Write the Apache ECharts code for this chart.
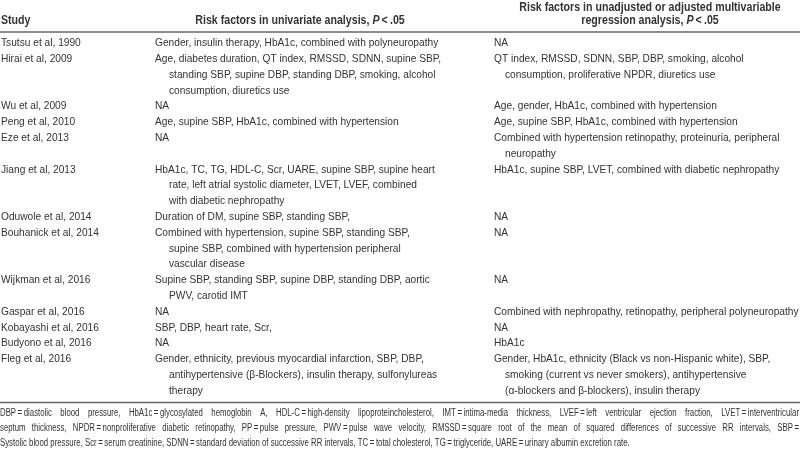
<!DOCTYPE html>
<html>
<head>
<meta charset="utf-8">
<script src="https://cdn.jsdelivr.net/npm/echarts@6/dist/echarts.min.js"></script>
<style>
  html, body { margin: 0; padding: 0; background: #fff; }
  #main { width: 800px; height: 451px; }
</style>
</head>
<body>
<div id="main"></div>
<script>
// table content, one entry per study; each cell is a list of printed lines
var studies = [
  'Tsutsu et al, 1990', 'Hirai et al, 2009', 'Wu et al, 2009', 'Peng et al, 2010',
  'Eze et al, 2013', 'Jiang et al, 2013', 'Oduwole et al, 2014', 'Bouhanick et al, 2014',
  'Wijkman et al, 2016', 'Gaspar et al, 2016', 'Kobayashi et al, 2016', 'Budyono et al, 2016',
  'Fleg et al, 2016'
];
var univariate = [
  ['Gender, insulin therapy, HbA1c, combined with polyneuropathy'],
  ['Age, diabetes duration, QT index, RMSSD, SDNN, supine SBP,', 'standing SBP, supine DBP, standing DBP, smoking, alcohol', 'consumption, diuretics use'],
  ['NA'],
  ['Age, supine SBP, HbA1c, combined with hypertension'],
  ['NA'],
  ['HbA1c, TC, TG, HDL-C, Scr, UARE, supine SBP, supine heart', 'rate, left atrial systolic diameter, LVET, LVEF, combined', 'with diabetic nephropathy'],
  ['Duration of DM, supine SBP, standing SBP,'],
  ['Combined with hypertension, supine SBP, standing SBP,', 'supine SBP, combined with hypertension peripheral', 'vascular disease'],
  ['Supine SBP, standing SBP, supine DBP, standing DBP, aortic', 'PWV, carotid IMT'],
  ['NA'],
  ['SBP, DBP, heart rate, Scr,'],
  ['NA'],
  ['Gender, ethnicity, previous myocardial infarction, SBP, DBP,', 'antihypertensive (\u03b2-Blockers), insulin therapy, sulfonylureas', 'therapy']
];
var multivariable = [
  ['NA'],
  ['QT index, RMSSD, SDNN, SBP, DBP, smoking, alcohol', 'consumption, proliferative NPDR, diuretics use'],
  ['Age, gender, HbA1c, combined with hypertension'],
  ['Age, supine SBP, HbA1c, combined with hypertension'],
  ['Combined with hypertension retinopathy, proteinuria, peripheral', 'neuropathy'],
  ['HbA1c, supine SBP, LVET, combined with diabetic nephropathy'],
  ['NA'],
  ['NA'],
  ['NA'],
  ['Combined with nephropathy, retinopathy, peripheral polyneuropathy'],
  ['NA'],
  ['HbA1c'],
  ['Gender, HbA1c, ethnicity (Black vs non-Hispanic white), SBP,', 'smoking (current vs never smokers), antihypertensive', '(\u03b1-blockers and \u03b2-blockers), insulin therapy']
];
var footnote = [
  'DBP\u2009=\u2009diastolic blood pressure, HbA1c\u2009=\u2009glycosylated hemoglobin A, HDL-C\u2009=\u2009high-density lipoproteincholesterol, IMT\u2009=\u2009intima-media thickness, LVEF\u2009=\u2009left ventricular ejection fraction, LVET\u2009=\u2009interventricular',
  'septum thickness, NPDR\u2009=\u2009nonproliferative diabetic retinopathy, PP\u2009=\u2009pulse pressure, PWV\u2009=\u2009pulse wave velocity, RMSSD\u2009=\u2009square root of the mean of squared differences of successive RR intervals, SBP\u2009=',
  'Systolic blood pressure, Scr\u2009=\u2009serum creatinine, SDNN\u2009=\u2009standard deviation of successive RR intervals, TC\u2009=\u2009total cholesterol, TG\u2009=\u2009triglyceride, UARE\u2009=\u2009urinary albumin excretion rate.'
];

// Helvetica Condensed look: Liberation Sans squeezed horizontally
var FAMILY = "Liberation Sans";
var BODY_FONT = '11.5px ' + FAMILY;
var HEAD_FONT = 'bold 12px ' + FAMILY;
var FOOT_FONT = '10px ' + FAMILY;
var SX = 0.885, FSX = 0.78;
var INK = '#333';

var W = 800;
var COL_X = [1, 155, 494];
var INDENT = [0, 14, 11];
var TOP = 43, LH = 15.8;

var myChart = echarts.init(document.getElementById('main'), null, { renderer: 'canvas' });
var els = [];

function txt(x, y, s, font, align, sx) {
  els.push({
    type: 'text', x: x, y: y, scaleX: sx || SX, silent: true,
    style: { text: s, font: font, fill: INK, textAlign: align || 'left', textVerticalAlign: 'middle' }
  });
}
function headRich(x, y, before) {
  els.push({
    type: 'text', x: x, y: y, scaleX: SX, silent: true,
    style: {
      text: '{b|' + before + '}{i|P}{b|\u2009<\u2009.05}',
      textAlign: 'center', textVerticalAlign: 'middle', fill: INK,
      rich: {
        b: { font: HEAD_FONT, fill: INK },
        i: { font: 'italic ' + HEAD_FONT, fill: INK }
      }
    }
  });
}

// header
txt(COL_X[0], 21, 'Study', HEAD_FONT);
headRich(300, 21, 'Risk factors in univariate analysis, ');
txt(650, 8, 'Risk factors in unadjusted or adjusted multivariable', HEAD_FONT, 'center');
headRich(650, 21, 'regression analysis, ');

// rules
function rule(y) {
  els.push({ type: 'line', silent: true, shape: { x1: 0, y1: y, x2: W, y2: y }, style: { stroke: '#666', lineWidth: 1.5 } });
}
rule(32);

// body rows
var line = 0;
studies.forEach(function (s, i) {
  var rows = Math.max(1, univariate[i].length, multivariable[i].length);
  txt(COL_X[0], TOP + line * LH, s, BODY_FONT);
  univariate[i].forEach(function (t, k) {
    txt(COL_X[1] + (k ? INDENT[1] : 0), TOP + (line + k) * LH, t, BODY_FONT);
  });
  multivariable[i].forEach(function (t, k) {
    txt(COL_X[2] + (k ? INDENT[2] : 0), TOP + (line + k) * LH, t, BODY_FONT);
  });
  line += rows;
});
var bottom = TOP + (line - 1) * LH + 12;
rule(bottom);

// footnote, justified except the last line
var ctx = document.createElement('canvas').getContext('2d');
ctx.font = FOOT_FONT;
footnote.forEach(function (t, k) {
  var y = bottom + 11 + k * 15;
  if (k === footnote.length - 1) { txt(0, y, t, FOOT_FONT, 'left', FSX); return; }
  var words = t.split(' ');
  var widths = words.map(function (w) { return ctx.measureText(w).width * FSX; });
  var sum = widths.reduce(function (a, b) { return a + b; }, 0);
  var gap = (W - 1 - sum) / (words.length - 1);
  var x = 0;
  words.forEach(function (w, j) {
    txt(x, y, w, FOOT_FONT, 'left', FSX);
    x += widths[j] + gap;
  });
});

myChart.setOption({
  backgroundColor: '#fff',
  animation: false,
  graphic: { elements: els }
});
</script>
</body>
</html>
